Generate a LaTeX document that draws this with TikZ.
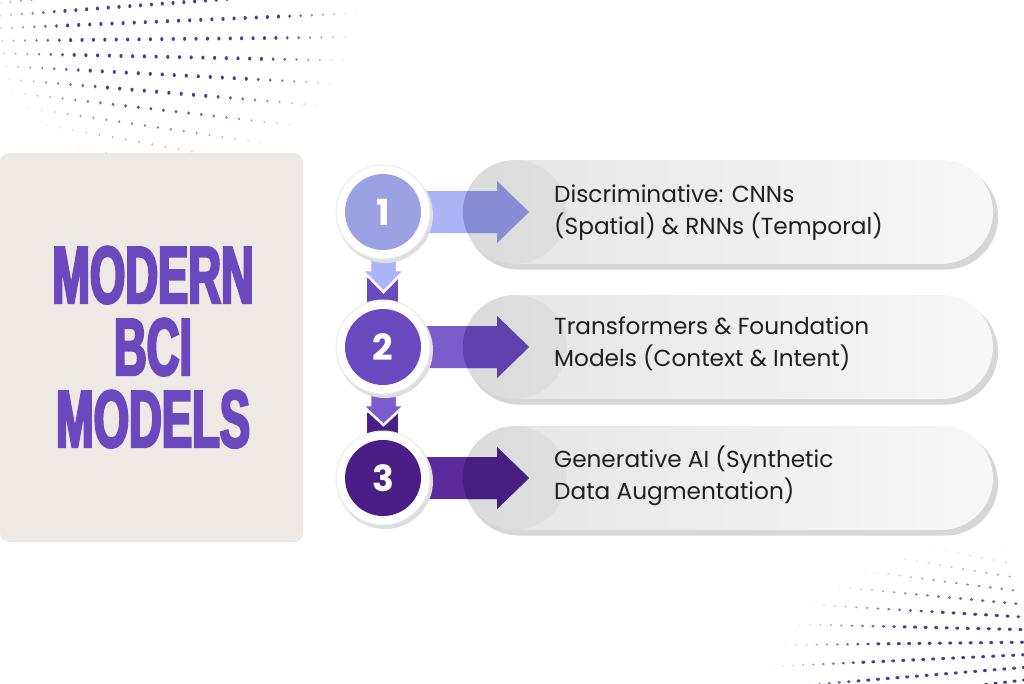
\documentclass[tikz,border=0pt]{standalone}
\usepackage{fontspec}
\setmainfont{Poppins}
\newfontfamily\titlefont{Liberation Sans Bold}[FakeStretch=0.56,FakeBold=3]
\usetikzlibrary{calc,shapes.misc}
\definecolor{beige}{HTML}{EEE9E4}
\definecolor{titlecol}{HTML}{6A48BE}
\definecolor{cA}{HTML}{9AA2E4}
\definecolor{cAl}{HTML}{AAB4F6}
\definecolor{cAd}{HTML}{8C93DC}
\definecolor{cB}{HTML}{6A4BBF}
\definecolor{cBl}{HTML}{7B5CCD}
\definecolor{cBd}{HTML}{6244B4}
\definecolor{cC}{HTML}{4A1E86}
\definecolor{cCl}{HTML}{5B2A9C}
\definecolor{cCd}{HTML}{4A2186}
\definecolor{txt}{HTML}{1F1F1F}
\definecolor{dotc}{HTML}{4E3C8E}
\definecolor{pillL}{HTML}{E4E4E4}
\definecolor{pillS}{HTML}{D6D6D6}
\tikzset{
  pillbox/.style={rounded rectangle, minimum width=530pt, minimum height=104pt, inner sep=0pt, left color=pillL, right color=white!97!black},
  pillshadow/.style={rounded rectangle, minimum width=532pt, minimum height=105pt, inner sep=0pt, fill=pillS},
  ringbox/.style={circle, minimum size=94pt, inner sep=0pt, fill=white, draw=black!8, line width=1pt},
  ringshadow/.style={circle, minimum size=96pt, inner sep=0pt, fill=black!13},
  numbox/.style={circle, minimum size=76pt, inner sep=0pt, text=white, font=\bfseries\fontsize{36}{36}\selectfont},
  itemtext/.style={align=left, inner sep=0pt, text=txt, font=\fontsize{23.2}{32}\selectfont},
  titletext/.style={inner sep=0pt, align=center, text=titlecol, font=\titlefont\fontsize{81}{72}\selectfont}
}
\begin{document}
\begin{tikzpicture}[x=1pt,y=-1pt]
\useasboundingbox (0,0) rectangle (1024,683);
\fill[white] (0,0) rectangle (1024,683);
% halftone dots
\foreach \i in {0,...,12}{
 \foreach \j in {0,...,32}{
  \pgfmathsetmacro{\th}{-6+1.8*\i}
  \pgfmathsetmacro{\xx}{\j*(10.5+0.3*\i)+0.25*\i*\i}
  \pgfmathsetmacro{\yy}{45+(\xx+400)*tan(\th)}
  \pgfmathsetmacro{\rr}{sqrt(((\xx-170)/195)^2+((\yy-15)/158)^2)}
  \pgfmathsetmacro{\op}{min(1,2.3*(1-\rr))}
  \ifdim\op pt>0.03pt
    \fill[dotc, opacity=\op] (\xx,\yy) ellipse ({0.6+1.0*\op} and {0.7+1.3*\op});
  \fi
  \pgfmathsetmacro{\xb}{1024-0.9*\xx}
  \pgfmathsetmacro{\yb}{683-\yy}
  \pgfmathsetmacro{\rb}{sqrt(((\xb-970)/210)^2+((\yb-700)/160)^2)}
  \pgfmathsetmacro{\ob}{min(1,2.3*(1-\rb))}
  \ifdim\ob pt>0.03pt
    \fill[dotc, opacity=\ob] (\xb,\yb) ellipse ({0.7+1.3*\ob} and {0.6+1.0*\ob});
  \fi
 }
}
% left panel
\fill[beige, rounded corners=9pt] (0,153) rectangle (303,542);
\node[titletext, anchor=base] (title) at (153,447) {MODERN\\BCI\\MODELS};

% pills
\foreach \Y/\k in {212/1,347/2,478/3}{
  \node[pillshadow] (s\k) at (732,\Y+5) {};
  \node[pillbox] (p\k) at (728,\Y) {};
}
% circle positions
\coordinate (o1) at (383,212);
\coordinate (o2) at (383,347);
\coordinate (o3) at (383,478);

% right arrows
\foreach \k/\cl/\cd in {1/cAl/cAd,2/cBl/cBd,3/cCl/cCd}{
  \path[fill=\cl] ($(o\k)+(30,-21)$) -- ($(o\k)+(114,-21)$) -- ($(o\k)+(114,-31)$) -- ($(o\k)+(146,0)$) -- ($(o\k)+(114,31)$) -- ($(o\k)+(114,21)$) -- ($(o\k)+(30,21)$) -- cycle;
  \begin{scope}
    \clip ($(p\k.west)+(52,0)$) circle (52);
    \path[fill=\cd] ($(o\k)+(30,-21)$) -- ($(o\k)+(114,-21)$) -- ($(o\k)+(114,-31)$) -- ($(o\k)+(146,0)$) -- ($(o\k)+(114,31)$) -- ($(o\k)+(114,21)$) -- ($(o\k)+(30,21)$) -- cycle;
  \end{scope}
  \fill[black, opacity=0.035] ($(p\k.west)+(52,0)$) circle (52);
}

% down connectors
\fill[cB] ($(o1)+(-16,66)$) rectangle ($(o2)+(15,-40)$);
\path[fill=cAl, draw=white, line width=2.5pt, line join=miter] ($(o1)+(-13,30)$) -- ($(o1)+(14,30)$) -- ($(o1)+(14,58)$) -- ($(o1)+(22,58)$) -- ($(o1)+(0.5,80)$) -- ($(o1)+(-21,58)$) -- ($(o1)+(-13,58)$) -- cycle;
\fill[cC] ($(o2)+(-16,66)$) rectangle ($(o3)+(15,-40)$);
\path[fill=cBl, draw=white, line width=2.5pt, line join=miter] ($(o2)+(-13,30)$) -- ($(o2)+(14,30)$) -- ($(o2)+(14,58)$) -- ($(o2)+(22,58)$) -- ($(o2)+(0.5,78)$) -- ($(o2)+(-21,58)$) -- ($(o2)+(-13,58)$) -- cycle;

% circles
\foreach \k/\c in {1/cA,2/cB,3/cC}{
  \node[ringshadow] at ($(o\k)+(2,3)$) {};
  \node[ringbox] (r\k) at (o\k) {};
  \node[numbox, fill=\c] (n\k) at (o\k) {\k};
}

% texts
\node[itemtext, anchor=west] (l1) at (554,213) {Discriminative: CNNs\\(Spatial) \& RNNs (Temporal)};
\node[itemtext, anchor=west] (l2) at (554,344) {Transformers \& Foundation\\Models (Context \& Intent)};
\node[itemtext, anchor=west] (l3) at (554,476) {Generative AI (Synthetic\\Data Augmentation)};
\end{tikzpicture}
\end{document}
